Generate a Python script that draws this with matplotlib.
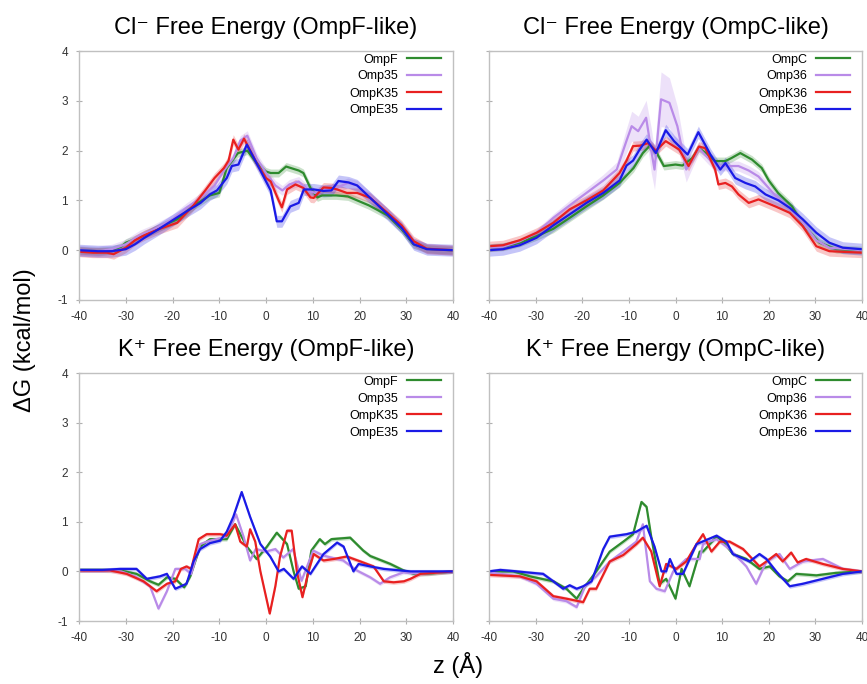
import matplotlib
matplotlib.use("Agg")
import matplotlib.pyplot as plt
import numpy as np

plt.rcParams['font.family'] = ['Liberation Sans', 'DejaVu Sans']
plt.rcParams['axes.unicode_minus'] = False

# ---------------- Cl- OmpF-like ----------------
cl_ompf_z = [-40, -36, -33, -31, -30, -28, -26, -23, -19, -15.5, -12, -10, -8.4, -6, -4, -2, 0, 1, 2.7, 4.3, 7, 8, 9.5, 11, 12, 15, 17.5, 19.5, 22, 26, 29, 31.5, 34.5, 37, 40]
cl_ompf_g = [0, -0.02, 0, 0.07, 0.15, 0.22, 0.32, 0.45, 0.62, 0.89, 1.1, 1.15, 1.65, 1.95, 2.0, 1.75, 1.58, 1.55, 1.55, 1.68, 1.6, 1.55, 1.25, 1.06, 1.1, 1.1, 1.08, 1.0, 0.9, 0.7, 0.42, 0.12, 0.03, 0.01, 0]
cl_omp35_z = [-40, -36, -33, -30, -27, -24, -20, -17, -14, -11, -9, -7, -5.5, -4, -2, 0, 2, 3.5, 5, 7, 9, 10.5, 12.5, 15, 17.5, 19.5, 22, 26, 29, 31.5, 34.5, 40]
cl_omp35_g = [0, -0.02, 0.02, 0.12, 0.3, 0.42, 0.62, 0.85, 1.05, 1.3, 1.6, 1.85, 2.2, 2.3, 1.85, 1.55, 1.3, 1.2, 1.32, 1.38, 1.2, 1.15, 1.22, 1.25, 1.35, 1.3, 1.1, 0.75, 0.45, 0.14, 0.03, 0]
cl_ompk35_z = [-40, -37, -34, -32.6, -30, -28, -26, -23, -19, -15.5, -13, -11, -9, -8, -7, -5.9, -4.7, -2, 0, 1, 2.7, 3.4, 4.5, 6.3, 8, 9.5, 10.2, 12.3, 14, 15.2, 17.3, 19.5, 22.3, 26, 29, 31.6, 34.4, 40]
cl_ompk35_g = [-0.03, -0.05, -0.05, -0.08, 0.05, 0.2, 0.3, 0.42, 0.55, 0.9, 1.2, 1.45, 1.65, 1.8, 2.22, 2.02, 2.24, 1.75, 1.45, 1.38, 1.0, 0.86, 1.22, 1.32, 1.25, 1.06, 1.05, 1.26, 1.25, 1.22, 1.15, 1.15, 1.05, 0.75, 0.5, 0.18, 0.03, 0]
cl_ompe35_z = [-40, -36, -33, -30, -28, -26, -23, -20, -17, -14, -12, -10.5, -8.4, -7.3, -5.9, -4.1, -1.2, 1, 2.3, 3.4, 5.2, 7, 8.1, 10.2, 12.3, 14, 15.5, 17.7, 19.5, 22.3, 26, 29, 31.6, 34.4, 40]
cl_ompe35_g = [0, -0.02, -0.02, 0.02, 0.12, 0.25, 0.42, 0.6, 0.78, 0.95, 1.12, 1.2, 1.45, 1.69, 1.72, 2.12, 1.6, 1.2, 0.58, 0.58, 0.88, 0.95, 1.22, 1.22, 1.19, 1.2, 1.39, 1.36, 1.3, 1.05, 0.72, 0.45, 0.12, 0.02, 0]

# ---------------- Cl- OmpC-like ----------------
cl_ompc_z = [-40, -37, -33.4, -29.8, -26.2, -22.7, -19.1, -15.5, -12, -9, -7, -5.5, -4, -2.5, 0, 1.5, 3.6, 5, 6.5, 8.5, 10.7, 12, 13.9, 16.4, 18.5, 20, 22, 25, 27.3, 30.9, 34.5, 40]
cl_ompc_g = [0.05, 0.07, 0.15, 0.28, 0.43, 0.65, 0.88, 1.1, 1.35, 1.65, 1.95, 2.1, 1.95, 1.69, 1.72, 1.7, 1.85, 2.05, 1.95, 1.79, 1.79, 1.85, 1.95, 1.82, 1.65, 1.4, 1.15, 0.88, 0.52, 0.15, 0.02, 0]
cl_omp36_z = [-40, -37, -33.4, -29.8, -26.2, -22.7, -19.1, -15.5, -12.6, -10.5, -9.4, -8, -6.3, -5.2, -4.5, -3.1, -1.3, 0.4, 2.3, 3.6, 5, 7, 8.5, 10.7, 13.5, 15.7, 17.8, 21.4, 25, 27.3, 30.2, 33, 40]
cl_omp36_g = [0.05, 0.07, 0.18, 0.35, 0.65, 0.9, 1.15, 1.4, 1.62, 2.2, 2.49, 2.39, 2.66, 2.0, 1.62, 3.03, 2.96, 2.49, 1.62, 1.8, 2.05, 1.85, 1.7, 1.69, 1.69, 1.6, 1.48, 1.1, 0.8, 0.55, 0.2, 0.05, 0]
cl_omp36_err = [0.04, 0.05, 0.06, 0.07, 0.08, 0.1, 0.1, 0.12, 0.15, 0.25, 0.3, 0.3, 0.35, 0.45, 0.4, 0.55, 0.5, 0.4, 0.25, 0.15, 0.12, 0.12, 0.1, 0.1, 0.1, 0.1, 0.1, 0.08, 0.06, 0.05, 0.04, 0.03, 0.02]
cl_ompk36_z = [-40, -37, -33.4, -29.8, -26.2, -22.7, -19.1, -15.5, -12, -10.5, -9.1, -7.5, -5.9, -4.2, -2.1, 0.8, 2.8, 5, 6.4, 8.5, 9.2, 10.7, 12.1, 13.5, 15.7, 17.8, 21.4, 24.5, 27.3, 30.2, 33, 40]
cl_ompk36_g = [0.08, 0.1, 0.2, 0.35, 0.55, 0.82, 1.0, 1.2, 1.55, 1.8, 2.09, 2.1, 2.15, 2.0, 2.19, 2.02, 1.69, 2.08, 2.05, 1.62, 1.32, 1.35, 1.28, 1.12, 0.95, 1.02, 0.88, 0.75, 0.48, 0.08, -0.02, -0.05]
cl_ompe36_z = [-40, -37, -33.4, -29.8, -26.2, -22.7, -19.1, -15.5, -12, -10.5, -9.1, -7.7, -6.2, -4.2, -2.1, -0.3, 2.6, 4.9, 7.5, 9.6, 10.7, 12.8, 15, 17.1, 19.3, 22.1, 24.5, 27.3, 30.2, 33, 35.9, 40]
cl_ompe36_g = [0.0, 0.02, 0.1, 0.25, 0.5, 0.72, 0.95, 1.15, 1.4, 1.7, 1.8, 2.02, 2.22, 1.95, 2.41, 2.19, 1.92, 2.37, 1.92, 1.62, 1.75, 1.45, 1.35, 1.28, 1.12, 1.0, 0.85, 0.62, 0.35, 0.15, 0.05, 0.02]

# ---------------- K+ OmpF-like ----------------
k_ompf_z = [-40, -35, -31.2, -27.7, -24.8, -23, -21.2, -19.4, -17.5, -16.2, -14.1, -12, -8.4, -6.6, -4.1, -2, 0.2, 2.3, 4.5, 5.9, 7, 8.5, 9.7, 11.5, 12.6, 14, 18, 20.8, 22.3, 26.6, 29.4, 31.6, 34.4, 40]
k_ompf_g = [0.03, 0.03, 0.02, -0.05, -0.2, -0.27, -0.12, -0.15, -0.32, -0.1, 0.5, 0.65, 0.65, 0.95, 0.5, 0.25, 0.5, 0.78, 0.55, 0.0, -0.35, -0.3, 0.42, 0.65, 0.55, 0.65, 0.68, 0.42, 0.31, 0.15, 0.02, -0.05, -0.05, 0.0]
k_omp35_z = [-40, -35, -31, -28, -24.8, -23, -21.2, -19.4, -17.3, -16, -14.1, -12, -8.4, -6.4, -4.8, -3.4, -2.2, 0, 2, 3.7, 5.8, 7.6, 10.1, 12.2, 16.5, 19.4, 22.3, 24.4, 26.5, 29.4, 33, 40]
k_omp35_g = [0.02, 0.02, 0.0, -0.1, -0.3, -0.75, -0.4, 0.05, 0.05, -0.05, 0.55, 0.62, 0.7, 1.15, 0.7, 0.22, 0.45, 0.4, 0.45, 0.28, 0.45, -0.19, 0.42, 0.32, 0.22, 0.02, -0.12, -0.25, -0.12, -0.02, -0.05, 0.0]
k_ompk35_z = [-40, -33.4, -29.8, -26.2, -23.4, -21.2, -19.4, -18.2, -17, -16, -14.4, -12.7, -9.8, -8.4, -6.6, -5.5, -4.1, -3.4, -2.3, -1.2, 0.8, 2, 3, 4.5, 5.5, 6.6, 7.8, 9.1, 10.2, 12.3, 14.5, 17.3, 20.2, 23, 25.2, 27.3, 29.5, 30.9, 33, 40]
k_ompk35_g = [0.02, 0.02, -0.05, -0.2, -0.4, -0.25, -0.2, 0.05, 0.1, 0.05, 0.65, 0.75, 0.75, 0.72, 0.95, 0.6, 0.5, 0.85, 0.6, 0.0, -0.85, -0.3, 0.3, 0.82, 0.82, 0.0, -0.52, 0.0, 0.35, 0.22, 0.25, 0.3, 0.2, 0.1, -0.2, -0.22, -0.2, -0.15, -0.05, 0.0]
k_ompe35_z = [-40, -35, -31.2, -27.7, -25.5, -22.7, -21.2, -19.4, -17, -15.5, -14.1, -12, -9.8, -8.4, -7, -5.2, -3.4, -1.2, 0.9, 2.7, 3.8, 5.9, 7.7, 9.5, 12.3, 15.2, 16.6, 18.7, 19.8, 22.3, 25.2, 30.9, 40]
k_ompe35_g = [0.03, 0.03, 0.05, 0.05, -0.15, -0.1, -0.05, -0.35, -0.25, 0.2, 0.45, 0.57, 0.62, 0.8, 1.1, 1.6, 1.1, 0.55, 0.3, 0.0, 0.05, -0.15, 0.1, -0.05, 0.35, 0.58, 0.5, 0.0, 0.15, 0.1, 0.05, 0.0, 0.0]

# ---------------- K+ OmpC-like ----------------
k_ompc_z = [-40, -34.8, -31.2, -26.2, -23.4, -21.2, -19.8, -17, -14.1, -11.2, -9.1, -7.3, -6.2, -5.2, -3.4, -2, 0, 1.3, 3, 5.2, 5.9, 8.8, 10.2, 12.3, 15.2, 18, 20.2, 22.3, 24.1, 25.9, 30.2, 34.4, 40]
k_ompc_g = [0.0, 0.0, -0.1, -0.2, -0.35, -0.55, -0.35, 0.0, 0.4, 0.6, 0.75, 1.4, 1.3, 0.7, -0.25, -0.15, -0.55, 0.05, -0.3, 0.4, 0.4, 0.7, 0.6, 0.35, 0.25, 0.05, 0.1, -0.1, -0.2, -0.05, -0.08, -0.03, 0.0]
k_omp36_z = [-40, -33.4, -29.8, -26.2, -23.4, -21.2, -19.4, -17, -14.1, -11.2, -8.4, -7, -5.5, -4.1, -2.3, -0.5, 2.3, 5.2, 5.9, 8.8, 11.6, 15.2, 17.3, 19.5, 22.3, 24.5, 27.3, 31.6, 35.9, 40]
k_omp36_g = [-0.02, -0.1, -0.25, -0.55, -0.6, -0.72, -0.3, -0.1, 0.2, 0.4, 0.6, 0.95, -0.2, -0.35, -0.4, 0.0, 0.25, 0.25, 0.55, 0.65, 0.45, 0.1, -0.25, 0.2, 0.35, 0.05, 0.2, 0.25, 0.05, 0.0]
k_ompk36_z = [-40, -33.4, -29.8, -26.2, -23.4, -19.8, -18.4, -17, -14.1, -11.2, -8.4, -7, -5.2, -3.4, -2, 0.2, 2.3, 4.5, 5.9, 7.7, 9.5, 11.6, 14.5, 18, 19.5, 21.6, 23, 24.8, 26.2, 28, 31.6, 35.9, 40]
k_ompk36_g = [-0.07, -0.1, -0.2, -0.5, -0.55, -0.62, -0.35, -0.35, 0.2, 0.33, 0.55, 0.68, 0.4, -0.3, 0.15, 0.05, 0.2, 0.55, 0.75, 0.4, 0.6, 0.6, 0.45, 0.1, 0.2, 0.35, 0.2, 0.38, 0.18, 0.25, 0.15, 0.05, 0.0]
k_ompe36_z = [-40, -37.6, -34, -31.9, -28.4, -26.2, -24.1, -22.7, -21.2, -19.8, -18, -15.5, -14.1, -10.5, -8.4, -6.2, -4.5, -3, -2, -1.2, 0.2, 1.6, 4.5, 8.8, 10.9, 12.3, 15.9, 18, 19.5, 21.6, 24.5, 27.3, 31.6, 35.9, 40]
k_ompe36_g = [0.0, 0.03, 0.0, -0.02, -0.05, -0.2, -0.35, -0.28, -0.35, -0.3, -0.2, 0.45, 0.7, 0.75, 0.8, 0.92, 0.5, 0.0, 0.0, 0.25, -0.05, -0.05, 0.55, 0.72, 0.6, 0.35, 0.2, 0.35, 0.25, 0.0, -0.3, -0.25, -0.15, -0.05, 0.0]

titles = ["Cl\u207b Free Energy (OmpF-like)", "Cl\u207b Free Energy (OmpC-like)",
          "K\u207a Free Energy (OmpF-like)", "K\u207a Free Energy (OmpC-like)"]
labels_f = ["OmpF", "Omp35", "OmpK35", "OmpE35"]
labels_c = ["OmpC", "Omp36", "OmpK36", "OmpE36"]
colors = ["#2e8b2e", "#b98be8", "#e82020", "#1a1ae6"]
x_ticks = [-40, -30, -20, -10, 0, 10, 20, 30, 40]
y_ticks = [-1, 0, 1, 2, 3, 4]

cl_band = [0.08, 0.1, 0.1, 0.12]
k_band = [0.04, 0.04, 0.04, 0.04]

panels = [
    ([(cl_ompf_z, cl_ompf_g), (cl_omp35_z, cl_omp35_g), (cl_ompk35_z, cl_ompk35_g), (cl_ompe35_z, cl_ompe35_g)], labels_f, [cl_band[0], cl_band[1], cl_band[2], cl_band[3]]),
    ([(cl_ompc_z, cl_ompc_g), (cl_omp36_z, cl_omp36_g), (cl_ompk36_z, cl_ompk36_g), (cl_ompe36_z, cl_ompe36_g)], labels_c, [cl_band[0], cl_omp36_err, cl_band[2], cl_band[3]]),
    ([(k_ompf_z, k_ompf_g), (k_omp35_z, k_omp35_g), (k_ompk35_z, k_ompk35_g), (k_ompe35_z, k_ompe35_g)], labels_f, k_band),
    ([(k_ompc_z, k_ompc_g), (k_omp36_z, k_omp36_g), (k_ompk36_z, k_ompk36_g), (k_ompe36_z, k_ompe36_g)], labels_c, k_band),
]

fig = plt.figure(figsize=(8.67, 6.84), dpi=100)
W, H = 867, 684
rects = [(79, 51, 453, 300), (489, 51, 862, 300), (79, 373, 453, 621), (489, 373, 862, 621)]

for i, ((series, labels, bands), (x0, y0, x1, y1)) in enumerate(zip(panels, rects)):
    ax = fig.add_axes([x0 / W, 1 - y1 / H, (x1 - x0) / W, (y1 - y0) / H])
    for (z, g), lab, col, b in zip(series, labels, colors, bands):
        z = np.asarray(z); g = np.asarray(g); b = np.asarray(b) * np.ones_like(g)
        ax.fill_between(z, g - b, g + b, color=col, alpha=0.25, linewidth=0)
        ax.plot(z, g, color=col, lw=1.6, label=lab)
    ax.set_xlim(-40, 40)
    ax.set_ylim(-1, 4)
    ax.set_xticks(x_ticks)
    ax.set_yticks(y_ticks)
    for s in ax.spines.values():
        s.set_color("#c0c0c0")
        s.set_linewidth(1.0)
    ax.tick_params(direction="inout", length=4, width=0.8, color="#b0b0b0",
                   labelsize=8.5, labelcolor="#333333", pad=6)
    if i % 2 == 1:
        ax.set_yticklabels([])
    ax.set_title(titles[i], fontsize=17, pad=12)
    ax.legend(loc="upper right", bbox_to_anchor=(1 - 10 / 374, 1.0), frameon=False,
              markerfirst=False, fontsize=9, handlelength=2.7, labelspacing=0.4,
              borderaxespad=0.0, borderpad=0.2, handletextpad=0.7)

fig.text(25 / W, 1 - 340 / H, "ΔG (kcal/mol)", rotation=90, ha="center", va="center", fontsize=17)
fig.text(458 / W, 1 - 665 / H, "z (Å)", ha="center", va="center", fontsize=17)

fig.savefig("out.png", dpi=100)
